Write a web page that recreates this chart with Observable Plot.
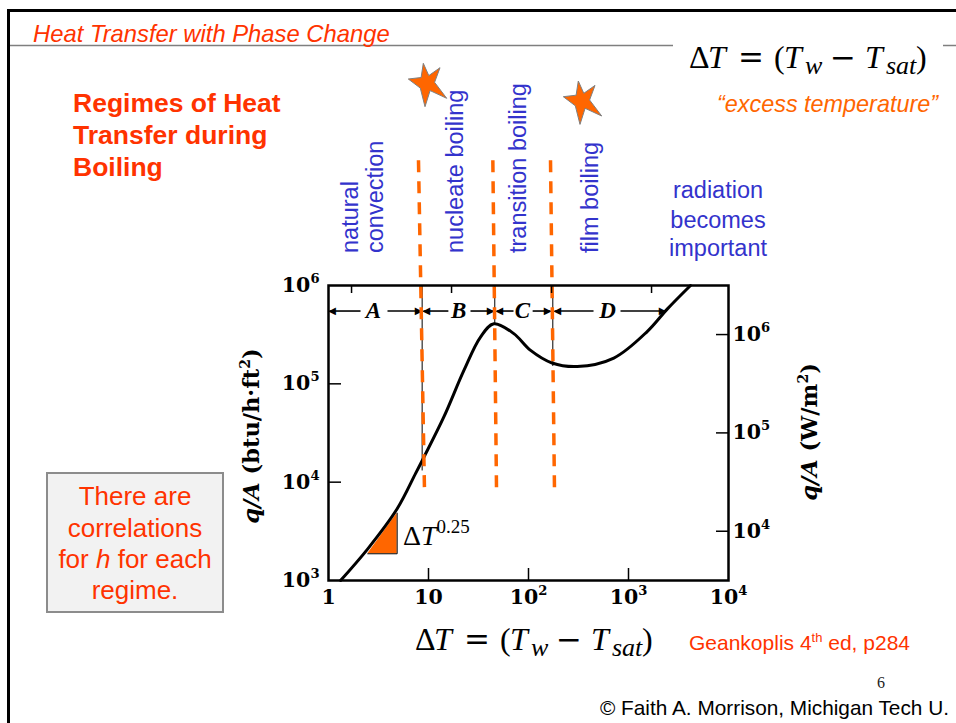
<!DOCTYPE html>
<html><head><meta charset="utf-8">
<script src="https://cdn.jsdelivr.net/npm/d3@7"></script>
<script src="https://cdn.jsdelivr.net/npm/@observablehq/plot@0.6"></script>
<style>
html,body{margin:0;padding:0;background:#fff;}
#slide{position:relative;width:956px;height:723px;overflow:hidden;background:#fff;}
#chart{position:absolute;left:0;top:0;}
#overlay{position:absolute;left:0;top:0;pointer-events:none;}
</style></head><body>
<div id="slide"><div id="chart"></div>
<svg id="overlay" width="956" height="723" font-family="'Liberation Sans', Arial, sans-serif">
 <line x1="7" y1="10.5" x2="956" y2="10.5" stroke="#000" stroke-width="3"/>
 <line x1="8.5" y1="9" x2="8.5" y2="723" stroke="#000" stroke-width="3"/>
 <line x1="10" y1="45.5" x2="673" y2="45.5" stroke="#7f7f7f" stroke-width="1.5"/>
 <line x1="943" y1="45.5" x2="956" y2="45.5" stroke="#7f7f7f" stroke-width="1.5"/>
 <text x="33" y="42" font-size="23.8" font-style="italic" fill="#ff3300">Heat Transfer with Phase Change</text>
 <g id="formulas"></g>
 <text x="717" y="112" font-size="23.4" font-style="italic" fill="#ff6600">“excess temperature”</text>
 <g font-size="26.5" font-weight="bold" fill="#ff3300">
  <text x="73" y="112">Regimes of Heat</text>
  <text x="73" y="144">Transfer during</text>
  <text x="73" y="176">Boiling</text>
 </g>
 <g fill="#ff6600" stroke="#808080" stroke-width="1">
  <polygon points="408.3,79 421.1,77.5 423.3,63.3 428.8,75.6 440,67.7 434.6,82.3 446.7,98.3 430.1,90.6 425,106.7 420.3,88.1"/>
  <polygon transform="translate(155,17.7)" points="408.3,79 421.1,77.5 423.3,63.3 428.8,75.6 440,67.7 434.6,82.3 446.7,98.3 430.1,90.6 425,106.7 420.3,88.1"/>
 </g>
 <g fill="#3333cc" font-size="23.5">
  <text transform="translate(358,253) rotate(-90)">natural</text>
  <text transform="translate(383,253) rotate(-90)">convection</text>
  <text transform="translate(463,253) rotate(-90)">nucleate boiling</text>
  <text transform="translate(526,253) rotate(-90)">transition boiling</text>
  <text transform="translate(598,253) rotate(-90)">film boiling</text>
  <g text-anchor="middle">
   <text x="718" y="198">radiation</text>
   <text x="718" y="228">becomes</text>
   <text x="718" y="256">important</text>
  </g>
 </g>
 <rect x="47" y="473" width="176" height="139" fill="#f2f2f2" stroke="#8c8c8c" stroke-width="2"/>
 <g font-size="26" fill="#ff3300" text-anchor="middle">
  <text x="135" y="505">There are</text>
  <text x="135" y="537">correlations</text>
  <text x="135" y="568">for <tspan font-style="italic">h</tspan> for each</text>
  <text x="135" y="599">regime.</text>
 </g>
 <g font-family="'DejaVu Serif', serif" font-weight="bold" font-size="22.5" fill="#000" text-anchor="middle">
  <text transform="translate(259,436) rotate(-90)"><tspan font-style="italic">q/A</tspan> (btu/h·ft<tspan font-size="14" dy="-9">2</tspan><tspan dy="9">)</tspan></text>
  <text transform="translate(817,432) rotate(-90)"><tspan font-style="italic">q/A</tspan> (W/m<tspan font-size="14" dy="-9">2</tspan><tspan dy="9">)</tspan></text>
 </g>
 <text x="403" y="545" font-family="'Liberation Serif', serif" font-size="28" fill="#000">Δ<tspan font-style="italic">T</tspan><tspan font-size="19" dy="-12">0.25</tspan></text>
 <text x="689" y="650" font-size="21" fill="#ff3300">Geankoplis 4<tspan font-size="13" dy="-8">th</tspan><tspan dy="8"> ed, p284</tspan></text>
 <text x="877" y="688" font-family="'Liberation Serif', serif" font-size="16" fill="#222">6</text>
 <text x="600" y="715" font-size="20.8" fill="#000">© Faith A. Morrison, Michigan Tech U.</text>
</svg></div>
<script>
// ---- data ----
const deltaT   = [1.32, 2.47, 4.86, 7.41, 8.98, 14.2, 22.6, 33.1, 45, 71.3, 105, 172, 307, 713, 1537, 2437, 4170];
const heatFlux = [1000, 2100, 5360, 12200, 17900, 45800, 137000, 299000, 408000, 324000, 219000, 163000, 150000, 183000, 340000, 575000, 1000000];

const xTickValues = [1, 10, 100, 1000, 10000];
const xTickLabels = ["1", "10", "10²", "10³", "10⁴"];
const topTickValues = [1.7, 17, 170, 1700];
const yTickValues = [1e3, 1e4, 1e5, 1e6];
const yTickLabels = ["10³", "10⁴", "10⁵", "10⁶"];
const siTickValues = [1e4, 1e5, 1e6];
const siTickLabels = ["10⁴", "10⁵", "10⁶"];
const wattsPerBtu = 3.1546;

const regimeNames = ["A", "B", "C", "D"];
const regimeLabelX = [2.82, 20, 87, 617];
const arrowFrom = [2.09, 3.89, 15.8, 26.3, 70.8, 110, 447, 832];
const arrowTo   = [1.02, 8.51, 8.9, 44.7, 47.9, 166, 182, 2344];
const arrowRowFlux = 5.5e5;

const boundaryTopX = [7.94, 44, 166];
const boundaryBottomX = [9.12, 47.9, 182];
const boundaryTopFlux = 1.88e7;
const boundaryBottomFlux = 8.2e3;
const boundaryThinX = [8.64, 46, 175];
const boundaryThinEnd = [13000, 400000, 150000];

const slopeTriX = [2.47, 4.86];
const slopeTriLow = [1870, 1870];
const slopeTriHigh = [1870, 4840];

// ---- formulas (slide text) ----
function formula(x0, base) {
  const sub = 6;
  const op = `font-family="'DejaVu Serif', serif" font-size="31"`;
  return `<text y="${base}" font-family="'Liberation Serif', serif" font-size="32" fill="#000">` +
    `<tspan x="${x0}">Δ</tspan><tspan x="${x0+19}" font-style="italic">T</tspan>` +
    `<tspan x="${x0+49}" ${op}>=</tspan><tspan x="${x0+85}">(</tspan>` +
    `<tspan x="${x0+95}" font-style="italic">T</tspan><tspan x="${x0+116}" font-style="italic" font-size="26" dy="${sub}">w</tspan>` +
    `<tspan x="${x0+141}" dy="${-sub}" ${op}>−</tspan>` +
    `<tspan x="${x0+176}" font-style="italic">T</tspan><tspan x="${x0+197}" font-style="italic" font-size="26" dy="${sub}">sat</tspan>` +
    `<tspan x="${x0+227}" dy="${-sub}">)</tspan></text>`;
}
document.getElementById("formulas").innerHTML = formula(689, 68) + formula(415, 650);

// ---- tables built from the arrays ----
const curve = deltaT.map((x, i) => ({x, y: heatFlux[i]}));
const tri = slopeTriX.map((x, i) => ({x, lo: slopeTriLow[i], hi: slopeTriHigh[i]}));
const triEdges = [
  {x: slopeTriX[0], y: slopeTriLow[0]},
  {x: slopeTriX[1], y: slopeTriLow[1]},
  {x: slopeTriX[1], y: slopeTriHigh[1]}
];
const regions = regimeNames.map((name, i) => ({name, x: regimeLabelX[i], y: arrowRowFlux}));
const arrows = arrowFrom.map((f, i) => ({x1: f, x2: arrowTo[i], y: arrowRowFlux}));
const headsRight = arrows.filter(a => a.x2 > a.x1);
const headsLeft = arrows.filter(a => a.x2 < a.x1);
const boundaries = boundaryTopX.map((x, i) => ({x1: x, x2: boundaryBottomX[i], y1: boundaryTopFlux, y2: boundaryBottomFlux}));
const thin = boundaryThinX.map((x, i) => ({x, y1: 1e6, y2: boundaryThinEnd[i]}));
const siTicksBtu = siTickValues.map(v => v / wattsPerBtu);
const xLab = new Map(xTickValues.map((v, i) => [v, xTickLabels[i]]));
const yLab = new Map(yTickValues.map((v, i) => [v, yTickLabels[i]]));
const siLab = new Map(siTicksBtu.map((v, i) => [v, siTickLabels[i]]));

const W = 956, H = 723, ML = 328, MR = 228, MT = 285, MB = 143;
const PW = W - ML - MR, PH = H - MT - MB;
const tickFont = {fontFamily: "'DejaVu Serif', serif", fontWeight: "bold", fontSize: 20.5, fill: "#000"};
const headFont = {fontFamily: "'DejaVu Sans', sans-serif", fontSize: 10, fill: "#000"};

const chart = Plot.plot({
  width: W, height: H,
  marginLeft: ML, marginRight: MR, marginTop: MT, marginBottom: MB,
  x: {type: "log", domain: [1, 1e4]},
  y: {type: "log", domain: [1e3, 1e6]},
  style: {background: "transparent", overflow: "visible", color: "#000"},
  marks: [
    Plot.areaY(tri, {x: "x", y1: "lo", y2: "hi", fill: "#ff6600"}),
    Plot.line(triEdges, {x: "x", y: "y", stroke: "#000", strokeWidth: 1}),
    Plot.ruleX(thin, {x: "x", y1: "y1", y2: "y2", stroke: "#000", strokeWidth: 1}),
    Plot.line(curve, {x: "x", y: "y", curve: "catmull-rom", stroke: "#000", strokeWidth: 3}),
    Plot.link(arrows, {x1: "x1", x2: "x2", y1: "y", y2: "y", stroke: "#000", strokeWidth: 1.6}),
    Plot.text(headsRight, {x: "x2", y: "y", text: () => "▶", textAnchor: "end", dx: 1, ...headFont}),
    Plot.text(headsLeft, {x: "x2", y: "y", text: () => "◀", textAnchor: "start", dx: -1, ...headFont}),
    Plot.text(regions, {x: "x", y: "y", text: "name", fontFamily: "'Liberation Serif', serif", fontStyle: "italic", fontWeight: "bold", fontSize: 23, fill: "#000"}),
    Plot.link(boundaries, {x1: "x1", x2: "x2", y1: "y1", y2: "y2", stroke: "#ff6600", strokeWidth: 3.5, strokeDasharray: "12,9"}),
    Plot.frame({stroke: "#000", strokeWidth: 2.5}),
    Plot.tickX(xTickValues.slice(1, -1), {x: d => d, insetTop: PH - 12, stroke: "#000", strokeWidth: 1.5}),
    Plot.tickX(topTickValues, {x: d => d, insetBottom: PH - 8, stroke: "#000", strokeWidth: 1.5}),
    Plot.tickY(yTickValues.slice(1, -1), {y: d => d, insetRight: PW - 13, stroke: "#000", strokeWidth: 1.5}),
    Plot.tickY(siTicksBtu, {y: d => d, insetLeft: PW - 12, stroke: "#000", strokeWidth: 1.5}),
    Plot.axisX({ticks: xTickValues, tickFormat: d => xLab.get(d), tickSize: 0, tickPadding: 9, label: null, ...tickFont}),
    Plot.axisY({ticks: yTickValues, tickFormat: d => yLab.get(d), tickSize: 0, tickPadding: 9, label: null, ...tickFont}),
    Plot.axisY({anchor: "right", ticks: siTicksBtu, tickFormat: d => siLab.get(d), tickSize: 0, tickPadding: 4, label: null, ...tickFont})
  ]
});

// render Unicode superscript exponents of the tick labels as raised tspans
const supDigits = {"⁰":"0","¹":"1","²":"2","³":"3","⁴":"4","⁵":"5","⁶":"6","⁷":"7","⁸":"8","⁹":"9"};
chart.querySelectorAll("text").forEach(t => {
  if (t.children.length) return;
  const m = t.textContent.match(/^(\d+)([⁰¹²³⁴⁵⁶⁷⁸⁹]+)$/);
  if (!m) return;
  t.textContent = m[1];
  const ts = document.createElementNS("http://www.w3.org/2000/svg", "tspan");
  ts.setAttribute("font-size", "0.64em");
  ts.setAttribute("dy", "-0.7em");
  ts.textContent = [...m[2]].map(c => supDigits[c]).join("");
  t.appendChild(ts);
});
document.getElementById("chart").appendChild(chart);
</script>
</body></html>
